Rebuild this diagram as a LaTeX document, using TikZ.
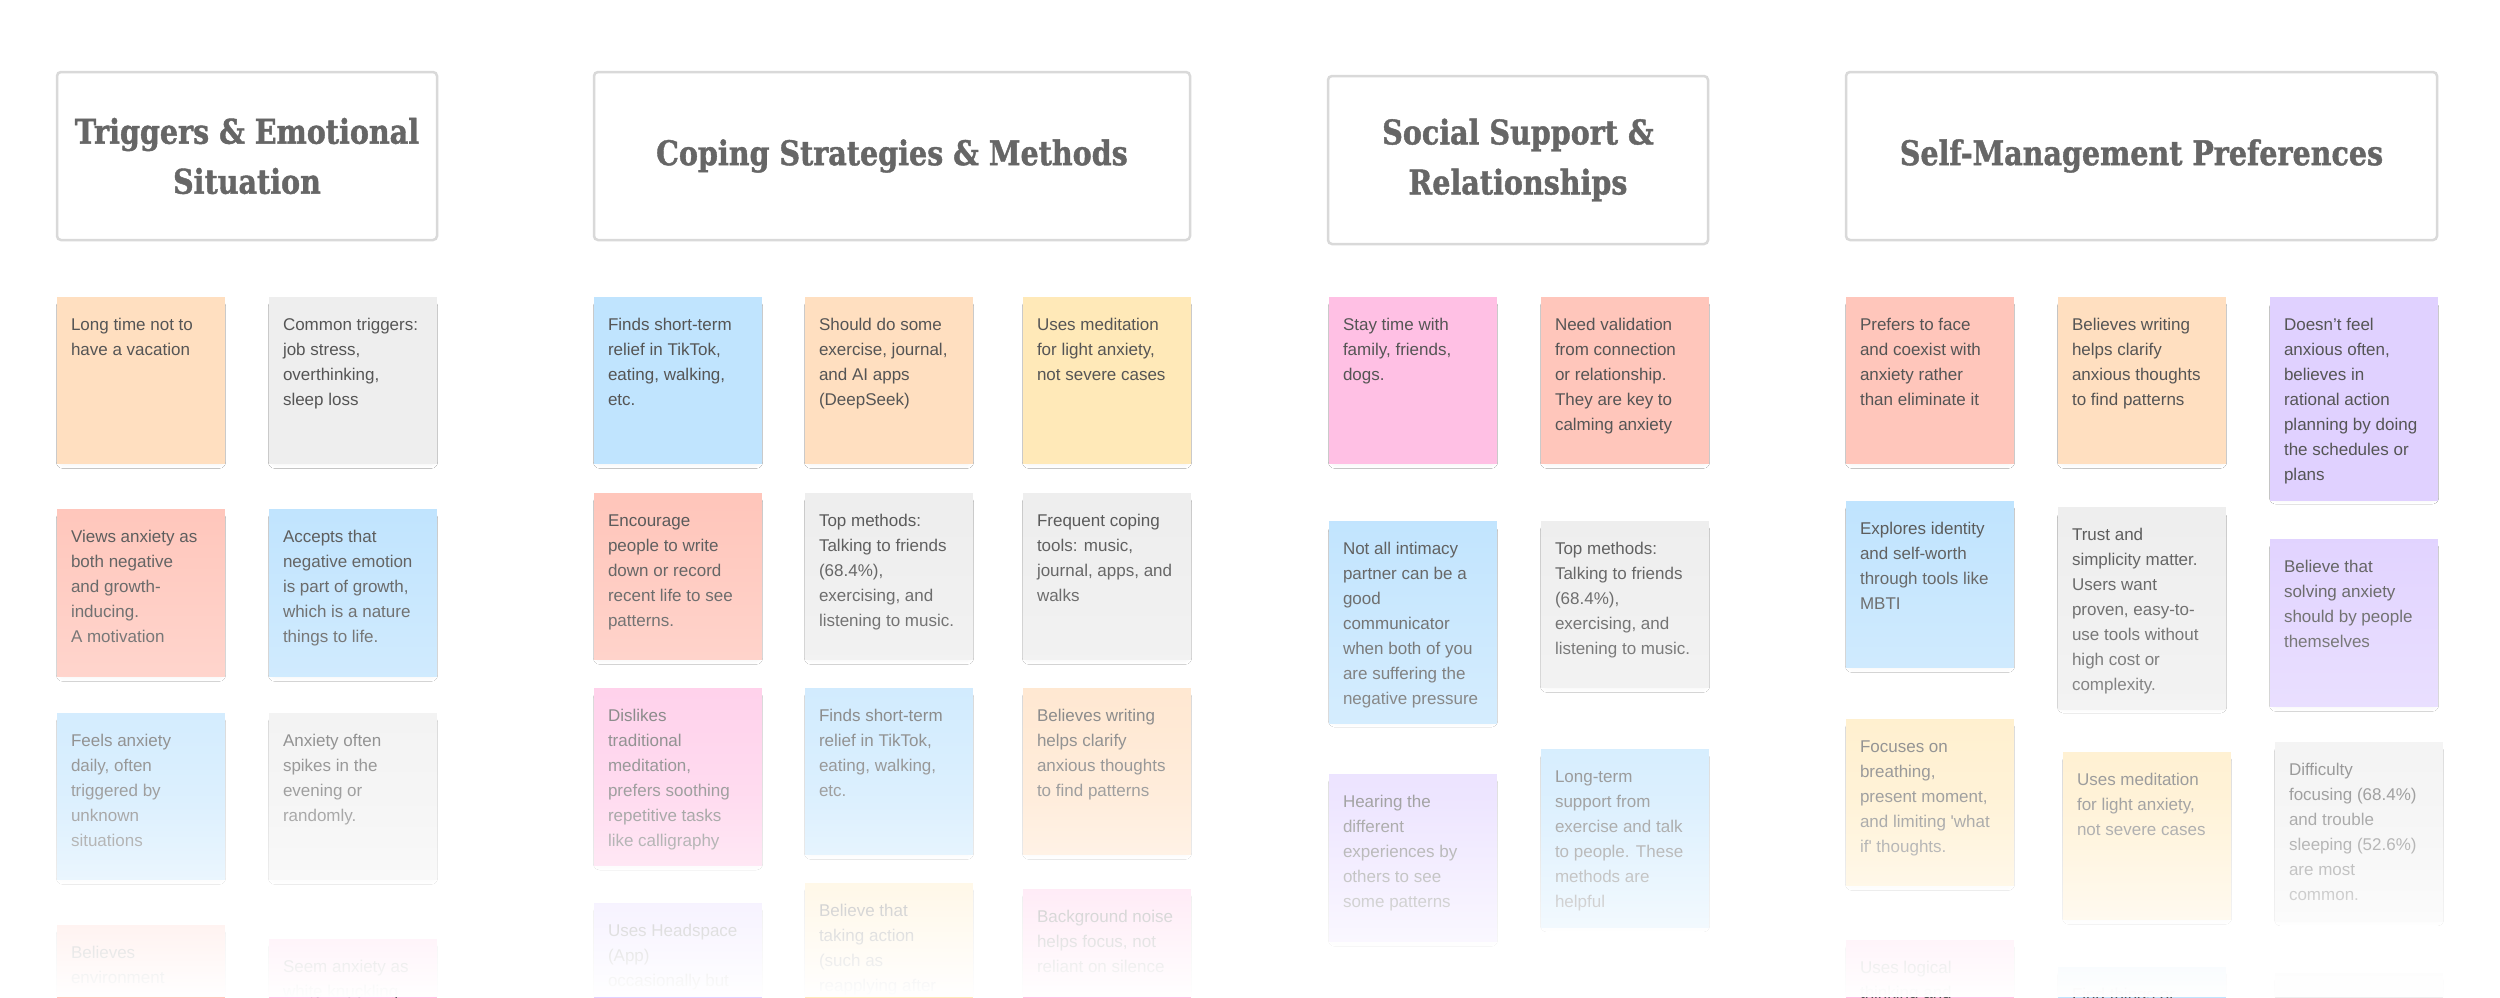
\documentclass[tikz,border=0pt]{standalone}
\usepackage{fontspec}
\setmainfont{Liberation Sans}
\newfontfamily\headfont[FakeStretch=0.84, BoldFeatures={FakeBold=1.2}]{DejaVu Serif}
\usetikzlibrary{fadings,shadows.blur}

\definecolor{peach}{RGB}{255,223,192}
\definecolor{ash}{RGB}{238,238,238}
\definecolor{salmon}{RGB}{255,198,187}
\definecolor{sky}{RGB}{192,228,254}
\definecolor{butter}{RGB}{255,233,184}
\definecolor{rose}{RGB}{255,192,228}
\definecolor{lilac}{RGB}{224,209,255}
\definecolor{headline}{RGB}{217,217,217}
\definecolor{headtext}{RGB}{102,102,102}
\definecolor{notetext}{RGB}{85,85,85}

% sticky note body: height, then lines
\newcommand{\sticky}[2]{\parbox[t][#1pt][t]{140pt}{\raggedright\rule{0pt}{33pt}#2}}

% the board fades out towards the bottom
\pgfdeclareverticalshading{pagefadeshade}{100bp}{color(0bp)=(white); color(25bp)=(white); color(45bp)=(white!45!black); color(75bp)=(black); color(100bp)=(black)}
\tikzfading[name=pagefade, shading=pagefadeshade]

\begin{document}
\begin{tikzpicture}[
    x=1pt, y=-1pt,
    every node/.style={inner sep=0pt, outer sep=0pt}
]

\tikzset{note/.style={fill=#1, anchor=north west, inner xsep=14pt, text=notetext,
    font=\fontsize{17}{25}\selectfont,
    blur shadow={shadow xshift=0pt, shadow yshift=-4pt, shadow scale=0.93,
                 shadow blur radius=7pt, shadow blur steps=12, shadow opacity=8}}}
\tikzset{head/.style={draw=headline, line width=2.5pt, rounded corners=4pt, fill=white,
    anchor=north west, minimum height=168pt, align=center, text=headtext,
    font=\headfont\bfseries\fontsize{34}{50}\selectfont}}

\useasboundingbox (0,0) rectangle (2500,997);
\fill[white] (0,0) rectangle (2500,997);
\clip (0,0) rectangle (2500,997);

% ================= Triggers =================

\node[head, minimum width=380pt] (h1) at (57,72) {Triggers \& Emotional\\Situation};

\node[note=peach]  (t1) at (57,297)  {\sticky{167}{Long time not to\\have a vacation}};
\node[note=ash]    (t2) at (269,297) {\sticky{167}{Common triggers:\\job stress,\\overthinking,\\sleep loss}};
\node[note=salmon] (t3) at (57,509)  {\sticky{168}{Views anxiety as\\both negative\\and growth-\\inducing.\\A motivation}};
\node[note=sky]    (t4) at (269,509) {\sticky{168}{Accepts that\\negative emotion\\is part of growth,\\which is a nature\\things to life.}};
\node[note=sky]    (t5) at (57,713)  {\sticky{167}{Feels anxiety\\daily, often\\triggered by\\unknown\\situations}};
\node[note=ash]    (t6) at (269,713) {\sticky{167}{Anxiety often\\spikes in the\\evening or\\randomly.}};
\node[note=salmon] (t7) at (57,925)  {\sticky{167}{Believes\\environment}};
\node[note=rose]   (t8) at (269,939) {\sticky{167}{Seem anxiety as\\white knuckling}};


% ================= Coping =================

\node[head, minimum width=596pt] (h2) at (594,72) {Coping Strategies \& Methods};

\node[note=sky]    (c1)  at (594,297)  {\sticky{167}{Finds short-term\\relief in TikTok,\\eating, walking,\\etc.}};
\node[note=peach]  (c2)  at (805,297)  {\sticky{167}{Should do some\\exercise, journal,\\and AI apps\\(DeepSeek)}};
\node[note=butter] (c3)  at (1023,297) {\sticky{167}{Uses meditation\\for light anxiety,\\not severe cases}};
\node[note=salmon] (c4)  at (594,493)  {\sticky{167}{Encourage\\people to write\\down or record\\recent life to see\\patterns.}};
\node[note=ash]    (c5)  at (805,493)  {\sticky{167}{Top methods:\\Talking to friends\\(68.4\%),\\exercising, and\\listening to music.}};
\node[note=ash]    (c6)  at (1023,493) {\sticky{167}{Frequent coping\\tools: music,\\journal, apps, and\\walks}};
\node[note=rose]   (c7)  at (594,688)  {\sticky{178}{Dislikes\\traditional\\meditation,\\prefers soothing\\repetitive tasks\\like calligraphy}};
\node[note=sky]    (c8)  at (805,688)  {\sticky{167}{Finds short-term\\relief in TikTok,\\eating, walking,\\etc.}};
\node[note=peach]  (c9)  at (1023,688) {\sticky{167}{Believes writing\\helps clarify\\anxious thoughts\\to find patterns}};
\node[note=lilac]  (c10) at (594,903)  {\sticky{167}{Uses Headspace\\(App)\\occasionally but}};
\node[note=butter] (c11) at (805,883)  {\sticky{167}{Believe that\\taking action\\(such as\\reapplying after}};
\node[note=rose]   (c12) at (1023,889) {\sticky{167}{Background noise\\helps focus, not\\reliant on silence}};


% ================= Social =================

\node[head, minimum width=380pt] (h3) at (1328,76) {Social Support \&\\Relationships};

\node[note=rose]   (s1) at (1329,297) {\sticky{167}{Stay time with\\family, friends,\\dogs.}};
\node[note=salmon] (s2) at (1541,297) {\sticky{167}{Need validation\\from connection\\or relationship.\\They are key to\\calming anxiety}};
\node[note=sky]    (s3) at (1329,521) {\sticky{203}{Not all intimacy\\partner can be a\\good\\communicator\\when both of you\\are suffering the\\negative pressure}};
\node[note=ash]    (s4) at (1541,521) {\sticky{167}{Top methods:\\Talking to friends\\(68.4\%),\\exercising, and\\listening to music.}};
\node[note=lilac]  (s5) at (1329,774) {\sticky{168}{Hearing the\\different\\experiences by\\others to see\\some patterns}};
\node[note=sky]    (s6) at (1541,749) {\sticky{179}{Long-term\\support from\\exercise and talk\\to people. These\\methods are\\helpful}};


% ================= Self-management =================

\node[head, minimum width=591pt] (h4) at (1846,72) {Self-Management Preferences};

\node[note=salmon] (m1)  at (1846,297) {\sticky{167}{Prefers to face\\and coexist with\\anxiety rather\\than eliminate it}};
\node[note=peach]  (m2)  at (2058,297) {\sticky{167}{Believes writing\\helps clarify\\anxious thoughts\\to find patterns}};
\node[note=lilac]  (m3)  at (2270,297) {\sticky{204}{Doesn’t feel\\anxious often,\\believes in\\rational action\\planning by doing\\the schedules or\\plans}};
\node[note=sky]    (m4)  at (1846,501) {\sticky{167}{Explores identity\\and self-worth\\through tools like\\MBTI}};
\node[note=ash]    (m5)  at (2058,507) {\sticky{203}{Trust and\\simplicity matter.\\Users want\\proven, easy-to-\\use tools without\\high cost or\\complexity.}};
\node[note=lilac]  (m6)  at (2270,539) {\sticky{168}{Believe that\\solving anxiety\\should by people\\themselves}};
\node[note=butter] (m7)  at (1846,719) {\sticky{167}{Focuses on\\breathing,\\present moment,\\and limiting \textquotesingle what\\if\textquotesingle{} thoughts.}};
\node[note=butter] (m8)  at (2063,752) {\sticky{168}{Uses meditation\\for light anxiety,\\not severe cases}};
\node[note=ash]    (m9)  at (2275,742) {\sticky{180}{Difficulty\\focusing (68.4\%)\\and trouble\\sleeping (52.6\%)\\are most\\common.}};
\node[note=rose]   (m10) at (1846,940) {\sticky{167}{Uses logical\\thinking and}};
\node[note=sky]    (m11) at (2058,967) {\sticky{167}{Find things or}};
\node[note=ash]    (m12) at (2275,973) {\sticky{167}{}};


% ================= fade out =================

\fill[white, path fading=pagefade] (0,500) rectangle (2500,997);

\end{tikzpicture}
\end{document}
